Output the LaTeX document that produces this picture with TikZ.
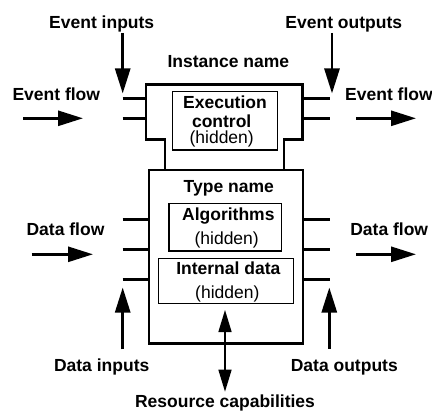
\documentclass[tikz,border=0pt]{standalone}
\usepackage{fontspec}
\setmainfont{Liberation Sans}
\usetikzlibrary{arrows.meta}
\begin{document}
\begin{tikzpicture}[x=1pt,y=-1pt,
  lbl/.style={anchor=base,inner sep=0pt,font=\fontsize{17.5}{20}\selectfont\bfseries},
  hid/.style={anchor=base,inner sep=0pt,font=\fontsize{17.5}{20}\selectfont},
  thick box/.style={line width=2.8pt,line join=miter},
  inner box/.style={line width=1.2pt},
  stub/.style={line width=2.6pt},
  bigarrow/.style={line width=2.8pt,-{Triangle[length=25pt,width=15pt]}},
  resarrow/.style={line width=1.5pt,{Triangle[length=22pt,width=13pt]}-{Triangle[length=22pt,width=13pt]}}]
\useasboundingbox (0,0) rectangle (432,412);
\fill[white] (0,0) rectangle (432,412);

% outer shapes
\draw[thick box] (165,170) -- (165,139.3) -- (146,139.3) -- (146,84.5) -- (302.7,84.5) -- (302.7,139.3) -- (284,139.3) -- (284,170);
\draw[thick box] (149,170) rectangle (303,343.3);

% inner boxes
\draw[inner box] (172.7,91.7) rectangle (277.3,150);
\draw[inner box] (169,203.3) rectangle (281.7,251);
\draw[inner box] (158.3,258.3) rectangle (293.3,303.3);

% texts
\node[lbl] (instname) at (228.3,67.5) {Instance name};
\node[lbl] (exec1) at (225,109) {Execution};
\node[lbl] (exec2) at (221.7,127.3) {control};
\node[hid] (exec3) at (221.7,143.3) {(hidden)};
\node[lbl] (typename) at (228.8,192.7) {Type name};
\node[lbl] (algo) at (228.3,220.7) {Algorithms};
\node[hid] (algoh) at (226.7,244) {(hidden)};
\node[lbl] (intd) at (228.3,275) {Internal data};
\node[hid] (intdh) at (227.3,298.3) {(hidden)};

\node[lbl] (evin) at (101.7,28.3) {Event inputs};
\node[lbl] (evout) at (343.8,28.3) {Event outputs};
\node[lbl] (evflowL) at (56.3,100.7) {Event flow};
\node[lbl] (evflowR) at (389,100.7) {Event flow};
\node[lbl] (dflowL) at (65.5,235.3) {Data flow};
\node[lbl] (dflowR) at (389.2,235.3) {Data flow};
\node[lbl] (din) at (101.7,371.7) {Data inputs};
\node[lbl] (dout) at (344.3,371.7) {Data outputs};
\node[lbl] (res) at (225,407.3) {Resource capabilities};

% stubs
\foreach \y in {98.3,118.3} {
  \draw[stub] (122.7,\y) -- (146,\y);
  \draw[stub] (302.7,\y) -- (330.3,\y);
}
\foreach \y in {219.3,249.3,279.3} {
  \draw[stub] (122.7,\y) -- (149,\y);
  \draw[stub] (303,\y) -- (330.3,\y);
}

% arrow coordinates
\coordinate (a1s) at (122.7,33);  \coordinate (a1e) at (122.7,93.5);
\coordinate (a2s) at (332,33);    \coordinate (a2e) at (332,93.5);
\coordinate (a3s) at (23,118.3);  \coordinate (a3e) at (83,118.3);
\coordinate (a4s) at (356,118.3); \coordinate (a4e) at (416,118.3);
\coordinate (a5s) at (31.7,254.3);\coordinate (a5e) at (93,254.3);
\coordinate (a6s) at (356,254.3); \coordinate (a6e) at (416,254.3);
\coordinate (a7s) at (122.7,349.3); \coordinate (a7e) at (122.7,287.5);
\coordinate (a8s) at (329.3,348.7); \coordinate (a8e) at (329.3,287.5);
\coordinate (r1) at (225,310); \coordinate (r2) at (225,391.7);

\draw[bigarrow] (a1s) -- (a1e);
\draw[bigarrow] (a2s) -- (a2e);
\draw[bigarrow] (a3s) -- (a3e);
\draw[bigarrow] (a4s) -- (a4e);
\draw[bigarrow] (a5s) -- (a5e);
\draw[bigarrow] (a6s) -- (a6e);
\draw[bigarrow] (a7s) -- (a7e);
\draw[bigarrow] (a8s) -- (a8e);
\draw[resarrow] (r1) -- (r2);
\end{tikzpicture}
\end{document}
